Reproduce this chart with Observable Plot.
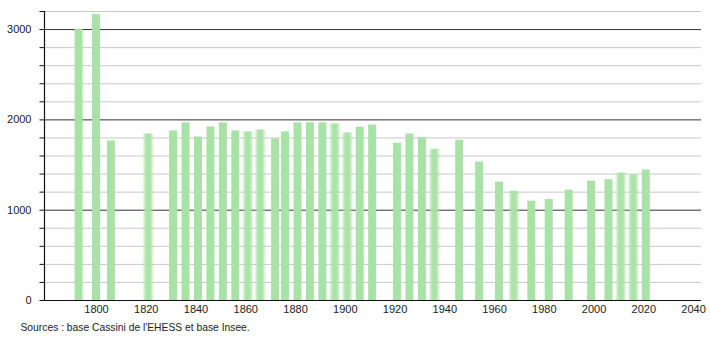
<!DOCTYPE html>
<html>
<head>
<meta charset="utf-8">
<script src="https://cdn.jsdelivr.net/npm/d3@7"></script>
<script src="https://cdn.jsdelivr.net/npm/@observablehq/plot@0.6"></script>
<style>
body { margin: 0; background: #fff; }
svg { display: block; }
</style>
</head>
<body>
<div id="chart"></div>
<script>
const years = [1793, 1800, 1806, 1821, 1831, 1836, 1841, 1846, 1851, 1856, 1861, 1866, 1872, 1876, 1881, 1886, 1891, 1896, 1901, 1906, 1911, 1921, 1926, 1931, 1936, 1946, 1954, 1962, 1968, 1975, 1982, 1990, 1999, 2006, 2011, 2016, 2021];
const population = [3000, 3165, 1767, 1844, 1878, 1967, 1811, 1922, 1967, 1878, 1867, 1889, 1789, 1867, 1967, 1967, 1967, 1956, 1856, 1919, 1944, 1741, 1844, 1804, 1674, 1774, 1533, 1311, 1211, 1100, 1119, 1222, 1322, 1337, 1411, 1393, 1444];
const blurred = [1821, 1861, 1866, 1896, 1901, 1936, 1968, 2011, 2016];
const majorTicks = [0, 1000, 2000, 3000];
const minorTicks = [200, 400, 600, 800, 1200, 1400, 1600, 1800, 2200, 2400, 2600, 2800, 3200];
const xTicks = [1800, 1820, 1840, 1860, 1880, 1900, 1920, 1940, 1960, 1980, 2000, 2020, 2040];
const caption = "Sources : base Cassini de l'EHESS et base Insee.";

const data = years.map((y, i) => ({year: y, pop: population[i], blur: blurred.includes(y)}));
const barColor = "#a9e2a6";
const xMin = 1779.1, xMax = 2043.2;

const chart = Plot.plot({
  width: 710,
  height: 340,
  marginLeft: 44,
  marginRight: 9,
  marginTop: 11,
  marginBottom: 40,
  style: {fontFamily: "'Liberation Sans', Arial, sans-serif", fontSize: "11px", color: "#222", background: "#fff"},
  x: {type: "linear", domain: [xMin, xMax], axis: null},
  y: {type: "linear", domain: [0, 3200], axis: null},
  marks: [
    Plot.ruleY(minorTicks, {x1: xMin, x2: xMax, stroke: "#c8c8c8", strokeWidth: 1}),
    Plot.ruleY(majorTicks.filter(d => d > 0), {x1: xMin, x2: xMax, stroke: "#333", strokeWidth: 1}),
    Plot.rectY(data.filter(d => !d.blur), {x1: d => d.year - 1.6, x2: d => d.year + 1.6, y1: 0, y2: "pop", fill: barColor}),
    Plot.rectY(data.filter(d => d.blur), {x1: d => d.year - 2.4, x2: d => d.year + 2.4, y1: 0, y2: "pop", fill: "url(#blurgrad)"}),
    Plot.ruleY([0], {x1: xMin, x2: xMax, stroke: "#111", strokeWidth: 1.2}),
    Plot.ruleX([xMin], {y1: 0, y2: 3200, stroke: "#111", strokeWidth: 1.2}),
    Plot.ruleY(majorTicks.concat(minorTicks), {x1: xMin - 1.8, x2: xMin, stroke: "#111", strokeWidth: 1}),
    Plot.text(majorTicks, {x: xMin, y: d => d, text: d => String(d), textAnchor: "end", dx: -13, fill: "#222"}),
    Plot.text(xTicks, {x: d => d, y: 0, text: d => String(d), dy: 9, fill: "#222"}),
    Plot.text([caption], {frameAnchor: "bottom-left", dx: -24, dy: 30, textAnchor: "start", fill: "#222", fontSize: 10.3})
  ]
});

const ns = "http://www.w3.org/2000/svg";
const defs = document.createElementNS(ns, "defs");
const grad = document.createElementNS(ns, "linearGradient");
grad.setAttribute("id", "blurgrad");
grad.setAttribute("x1", "0"); grad.setAttribute("x2", "1");
grad.setAttribute("y1", "0"); grad.setAttribute("y2", "0");
[[0, 0], [0.3, 0.9], [0.5, 1], [0.7, 0.9], [1, 0]].forEach(([o, a]) => {
  const s = document.createElementNS(ns, "stop");
  s.setAttribute("offset", o);
  s.setAttribute("stop-color", barColor);
  s.setAttribute("stop-opacity", a);
  grad.appendChild(s);
});
defs.appendChild(grad);
chart.insertBefore(defs, chart.firstChild);

document.getElementById("chart").appendChild(chart);
</script>
</body>
</html>
